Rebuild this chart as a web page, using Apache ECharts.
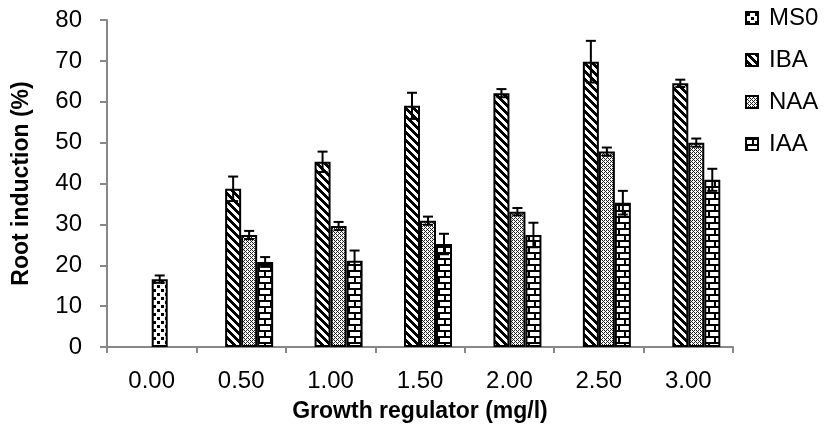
<!DOCTYPE html>
<html>
<head>
<meta charset="utf-8">
<script src="https://cdn.jsdelivr.net/npm/echarts@6/dist/echarts.min.js"></script>
<style>
html,body{margin:0;padding:0;background:#fff;}
#chart{width:833px;height:425px;}
</style>
</head>
<body>
<div id="chart"></div>
<script>
const categories = ['0.00', '0.50', '1.00', '1.50', '2.00', '2.50', '3.00'];
const ms0 = [16.6, '-', '-', '-', '-', '-', '-'];
const iba = ['-', 38.7, 45.3, 59.0, 62.1, 69.8, 64.5];
const naa = ['-', 27.4, 29.6, 30.9, 33.1, 47.8, 50.0];
const iaa = ['-', 20.8, 21.1, 25.2, 27.4, 35.3, 40.9];
const ms0Err = [0.9, null, null, null, null, null, null];
const ibaErr = [null, 3.0, 2.5, 3.2, 1.0, 5.1, 0.9];
const naaErr = [null, 1.0, 1.0, 1.0, 0.9, 1.0, 1.0];
const iaaErr = [null, 1.2, 2.5, 2.5, 3.0, 2.9, 2.7];
const yTicks = [0, 10, 20, 30, 40, 50, 60, 70, 80];

function tile(w, h, fn) {
  const c = document.createElement('canvas');
  c.width = w; c.height = h;
  const ctx = c.getContext('2d');
  ctx.fillStyle = '#fff';
  ctx.fillRect(0, 0, w, h);
  fn(ctx, w, h);
  return c;
}
const patMS0 = tile(8, 8, (ctx) => {
  ctx.fillStyle = '#000';
  ctx.fillRect(1, 1, 3, 3);
  ctx.fillRect(5, 5, 3, 3);
});
const patIBA = tile(8, 8, (ctx, w, h) => {
  ctx.fillStyle = '#000';
  for (let y = 0; y < h; y++) for (let x = 0; x < w; x++) {
    if ((((x - y) % 8) + 8) % 8 < 4) ctx.fillRect(x, y, 1, 1);
  }
});
const patNAA = tile(4, 4, (ctx, w, h) => {
  ctx.fillStyle = '#222';
  for (let y = 0; y < h; y++) for (let x = 0; x < w; x++) {
    if ((x + y) % 4 === 0 || (((x - y) % 4) + 4) % 4 === 2) ctx.fillRect(x, y, 1, 1);
  }
});
const patIAA = tile(12, 12, (ctx) => {
  ctx.fillStyle = '#000';
  ctx.fillRect(0, 0, 12, 2);
  ctx.fillRect(0, 6, 12, 2);
  ctx.fillRect(6, 2, 2, 4);
  ctx.fillRect(0, 8, 2, 4);
});

const BW = 16;
function errData(vals, errs) {
  const out = [];
  vals.forEach((v, i) => {
    if (v !== '-' && errs[i] != null) out.push([i, v, errs[i]]);
  });
  return out;
}
function errSeries(vals, errs, slot) {
  const offset = (slot - 1.5) * BW;
  return {
    type: 'custom',
    z: 5,
    silent: true,
    data: errData(vals, errs),
    encode: { x: 0, y: 1 },
    renderItem: function (params, api) {
      const c = api.value(0), v = api.value(1), e = api.value(2);
      const x = api.coord([c, v])[0] + offset;
      const yt = api.coord([c, v + e])[1];
      const yb = api.coord([c, v - e])[1];
      const st = { stroke: '#000', lineWidth: 2 };
      return {
        type: 'group',
        children: [
          { type: 'line', shape: { x1: x, y1: yt, x2: x, y2: yb }, style: st },
          { type: 'line', shape: { x1: x - 5, y1: yt, x2: x + 5, y2: yt }, style: st },
          { type: 'line', shape: { x1: x - 5, y1: yb, x2: x + 5, y2: yb }, style: st }
        ]
      };
    }
  };
}
function barStyle(pat) {
  return { color: { image: pat, repeat: 'repeat' }, borderColor: '#000', borderWidth: 2 };
}

const chart = echarts.init(document.getElementById('chart'));
const font = 'Liberation Sans, Arial, sans-serif';
chart.setOption({
  animation: false,
  textStyle: { fontFamily: font },
  grid: { left: 107, right: 100, top: 20, bottom: 78, containLabel: false, outerBoundsMode: 'none' },
  legend: {
    orient: 'vertical',
    left: 745,
    top: 6,
    padding: 0,
    itemGap: 18,
    itemWidth: 12,
    itemHeight: 12,
    icon: 'rect',
    itemStyle: { borderColor: '#000', borderWidth: 2 },
    data: ['MS0', 'IBA', 'NAA', 'IAA'],
    textStyle: { fontSize: 24, color: '#000', fontFamily: font, padding: [0, 0, 0, 6] }
  },
  xAxis: {
    type: 'category',
    data: categories,
    name: 'Growth regulator (mg/l)',
    nameLocation: 'middle',
    nameGap: 53,
    nameTextStyle: { fontSize: 23, fontWeight: 'bold', color: '#000', fontFamily: font },
    axisLine: { lineStyle: { color: '#888', width: 2 } },
    axisTick: { show: true, length: 6, lineStyle: { color: '#888', width: 2 } },
    axisLabel: { fontSize: 24, color: '#000', margin: 22, fontFamily: font },
    splitLine: { show: false }
  },
  yAxis: {
    type: 'value',
    min: 0,
    max: 80,
    interval: 10,
    name: 'Root induction (%)',
    nameLocation: 'middle',
    nameGap: 74,
    nameTextStyle: { fontSize: 23, fontWeight: 'bold', color: '#000', fontFamily: font },
    axisLine: { show: true, lineStyle: { color: '#888', width: 2 } },
    axisTick: { show: true, length: 7, lineStyle: { color: '#888', width: 2 } },
    axisLabel: { fontSize: 24, color: '#000', margin: 25, fontFamily: font,
      formatter: (v) => (yTicks.indexOf(v) >= 0 ? String(v) : '') },
    splitLine: { show: false }
  },
  series: [
    { name: '_slot', type: 'bar', barWidth: BW, barGap: '0%', data: categories.map(() => '-'), silent: true },
    { name: 'IBA', type: 'bar', barWidth: BW, barGap: '0%', data: iba, itemStyle: barStyle(patIBA) },
    { name: 'NAA', type: 'bar', stack: 'mid', barWidth: BW, barGap: '0%', data: naa, itemStyle: barStyle(patNAA) },
    { name: 'MS0', type: 'bar', stack: 'mid', barWidth: BW, barGap: '0%', data: ms0, itemStyle: barStyle(patMS0) },
    { name: 'IAA', type: 'bar', barWidth: BW, barGap: '0%', data: iaa, itemStyle: barStyle(patIAA) },
    errSeries(ms0, ms0Err, 2),
    errSeries(iba, ibaErr, 1),
    errSeries(naa, naaErr, 2),
    errSeries(iaa, iaaErr, 3)
  ]
});
</script>
</body>
</html>
